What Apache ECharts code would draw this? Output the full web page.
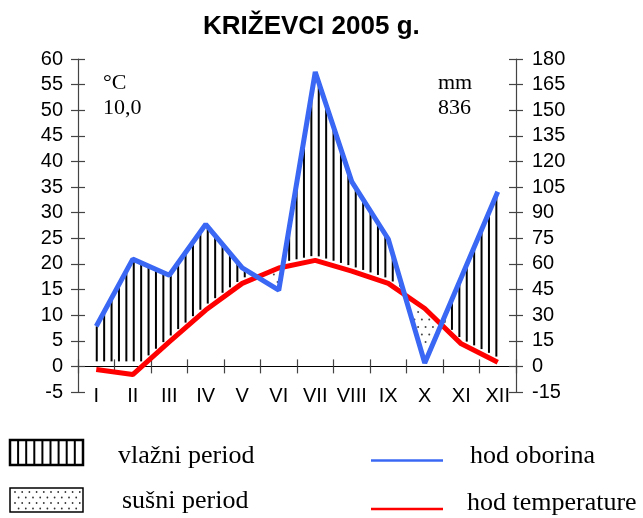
<!DOCTYPE html>
<html>
<head>
<meta charset="utf-8">
<script src="https://cdn.jsdelivr.net/npm/echarts@6/dist/echarts.min.js"></script>
<style>
  html, body { margin: 0; padding: 0; background: #fff; }
  #chart { width: 643px; height: 518px; }
</style>
</head>
<body>
<div id="chart"></div>
<script>
// months, temperature (°C) and precipitation (mm)
const months = ["I", "II", "III", "IV", "V", "VI", "VII", "VIII", "IX", "X", "XI", "XII"];
const temperature = [-0.6, -1.6, 4.8, 11.0, 16.2, 19.2, 20.7, 18.6, 16.2, 11.3, 4.4, 0.8];
const precipitation = [23.5, 62.8, 53.4, 83.2, 57.7, 44.6, 172.4, 108.2, 74.6, 2.0, 52.0, 102.3];

const tempTicks = { min: -5, max: 60, interval: 5 };
const precTicks = { min: -15, max: 180, interval: 15 };
const SCALE = precTicks.max / tempTicks.max; // mm per °C on the diagram

const BLUE = "#3a68f4";
const RED = "#ff0000";
const sans = "'Liberation Sans', Arial, sans-serif";
const serif = "'Liberation Serif', 'Times New Roman', serif";

const GRID = { left: 78, right: 127, top: 59, bottom: 126 };
const plotHeight = 518 - GRID.top - GRID.bottom;
// move the month axis up to the 0 line
const zeroOffset = -plotHeight * (0 - tempTicks.min) / (tempTicks.max - tempTicks.min);

const chart = echarts.init(document.getElementById("chart"));

function lerpAt(pts, x) {
  for (let k = 0; k < pts.length - 1; k++) {
    if (x >= pts[k][0] && x <= pts[k + 1][0]) {
      const t = (x - pts[k][0]) / (pts[k + 1][0] - pts[k][0]);
      return pts[k][1] + t * (pts[k + 1][1] - pts[k][1]);
    }
  }
  return null;
}

// humid (vertical hatch) and arid (dots) areas between the two curves
function renderPeriods(params, api) {
  const tp = months.map((m, i) => api.coord([i, temperature[i]]));
  const pp = months.map((m, i) => api.coord([i, precipitation[i] / SCALE]));
  const y0 = api.coord([0, 0])[1];
  const children = [];
  const x0 = tp[0][0], x1 = tp[tp.length - 1][0];

  for (let x = x0 + 0.5; x <= x1; x += 7.4) {
    const yt = lerpAt(tp, x), yp = lerpAt(pp, x);
    const bottom = Math.min(yt, y0) - 5;
    if (yp < bottom - 2) {
      children.push({
        type: "line",
        shape: { x1: x, y1: yp + 1, x2: x, y2: bottom },
        style: { stroke: "#000", lineWidth: 2 }
      });
    }
  }

  let row = 0;
  for (let y = y0 - 2; y > 60; y -= 7.5, row++) {
    const off = row % 2 ? 3.7 : 0;
    for (let x = x0 + off; x <= x1; x += 7.4) {
      const yt = lerpAt(tp, x), yp = lerpAt(pp, x);
      if (yt === null) continue;
      if (yp > yt + 8 && y > yt + 4 && y < yp - 4) {
        children.push({
          type: "circle",
          shape: { cx: x, cy: y, r: 1 },
          style: { fill: "#444" }
        });
      }
    }
  }
  return { type: "group", children: children };
}

// legend graphics
const legend = [];
legend.push({ type: "rect", shape: { x: 10, y: 440, width: 73, height: 25 },
  style: { fill: "#fff", stroke: "#000", lineWidth: 2.5 } });
for (let k = 1; k <= 8; k++) {
  legend.push({ type: "line", shape: { x1: 10 + k * 8.1, y1: 440, x2: 10 + k * 8.1, y2: 465 },
    style: { stroke: "#000", lineWidth: 2 } });
}
legend.push({ type: "rect", shape: { x: 10, y: 488, width: 73, height: 24 },
  style: { fill: "#fff", stroke: "#000", lineWidth: 1.5 } });
for (let r = 0; r < 4; r++) {
  for (let c = 0; c < 10; c++) {
    const cx = 15 + c * 7.2 + (r % 2 ? 3.6 : 0);
    if (cx > 80) continue;
    legend.push({ type: "circle", shape: { cx: cx, cy: 492 + r * 5.5, r: 0.9 }, style: { fill: "#333" } });
  }
}
legend.push({ type: "line", shape: { x1: 371, y1: 460.5, x2: 443, y2: 460.5 }, style: { stroke: BLUE, lineWidth: 2.5 } });
legend.push({ type: "line", shape: { x1: 371, y1: 509, x2: 443, y2: 509 }, style: { stroke: RED, lineWidth: 2.5 } });

function label(text, x, y, size) {
  return { type: "text", x: x, y: y,
    style: { text: text, font: size + "px " + serif, fill: "#000", verticalAlign: "middle" } };
}
legend.push(label("vlažni period", 118, 456, 26));
legend.push(label("sušni period", 122, 501, 26));
legend.push(label("hod oborina", 470, 456, 26));
legend.push(label("hod temperature", 467, 503, 26));
legend.push(label("°C", 103, 83, 22));
legend.push(label("10,0", 103, 108, 22));
legend.push(label("mm", 438, 83, 22));
legend.push(label("836", 438, 108, 22));

const axisLine = { show: true, lineStyle: { color: "#444", width: 1.2 } };
const tickStyle = { color: "#444", width: 1.2 };

const option = {
  animation: false,
  backgroundColor: "#fff",
  title: {
    text: "KRIŽEVCI 2005 g.",
    left: 198,
    top: 9,
    textStyle: { fontFamily: sans, fontSize: 26, fontWeight: "bold", color: "#000" }
  },
  grid: GRID,
  xAxis: [
    {
      type: "category",
      data: months,
      position: "bottom",
      offset: zeroOffset,
      boundaryGap: true,
      axisLine: { onZero: false, lineStyle: { color: "#000", width: 1.2 } },
      axisTick: { show: true, interval: 0, length: 7, lineStyle: tickStyle },
      axisLabel: { margin: 20, interval: 0, fontFamily: sans, fontSize: 20, color: "#000" }
    },
    {
      type: "category",
      data: months,
      position: "bottom",
      offset: zeroOffset,
      boundaryGap: true,
      axisLine: { show: false, onZero: false },
      axisTick: { show: true, inside: true, interval: 0, length: 7, lineStyle: tickStyle },
      axisLabel: { show: false }
    }
  ],
  yAxis: [
    {
      type: "value", position: "left", ...tempTicks,
      splitLine: { show: false },
      axisLine: axisLine,
      axisTick: { show: true, length: 7, lineStyle: tickStyle },
      axisLabel: { margin: 15, fontFamily: sans, fontSize: 20, color: "#000" }
    },
    {
      type: "value", position: "right", ...precTicks,
      splitLine: { show: false },
      axisLine: axisLine,
      axisTick: { show: true, length: 7, lineStyle: tickStyle },
      axisLabel: { margin: 16, fontFamily: sans, fontSize: 20, color: "#000" }
    },
    {
      type: "value", position: "left", ...tempTicks,
      splitLine: { show: false }, axisLine: { show: false },
      axisTick: { show: true, inside: true, length: 7, lineStyle: tickStyle },
      axisLabel: { show: false }
    },
    {
      type: "value", position: "right", ...precTicks,
      splitLine: { show: false }, axisLine: { show: false },
      axisTick: { show: true, inside: true, length: 7, lineStyle: tickStyle },
      axisLabel: { show: false }
    }
  ],
  series: [
    {
      name: "periods",
      type: "custom",
      xAxisIndex: 0,
      yAxisIndex: 0,
      clip: false,
      silent: true,
      z: 1,
      data: [0],
      renderItem: renderPeriods
    },
    {
      name: "hod temperature",
      type: "line",
      yAxisIndex: 0,
      data: temperature,
      symbol: "none",
      z: 3,
      lineStyle: { color: RED, width: 5 }
    },
    {
      name: "hod oborina",
      type: "line",
      yAxisIndex: 1,
      data: precipitation,
      symbol: "none",
      z: 4,
      lineStyle: { color: BLUE, width: 5 }
    }
  ],
  graphic: legend
};

chart.setOption(option);
</script>
</body>
</html>
